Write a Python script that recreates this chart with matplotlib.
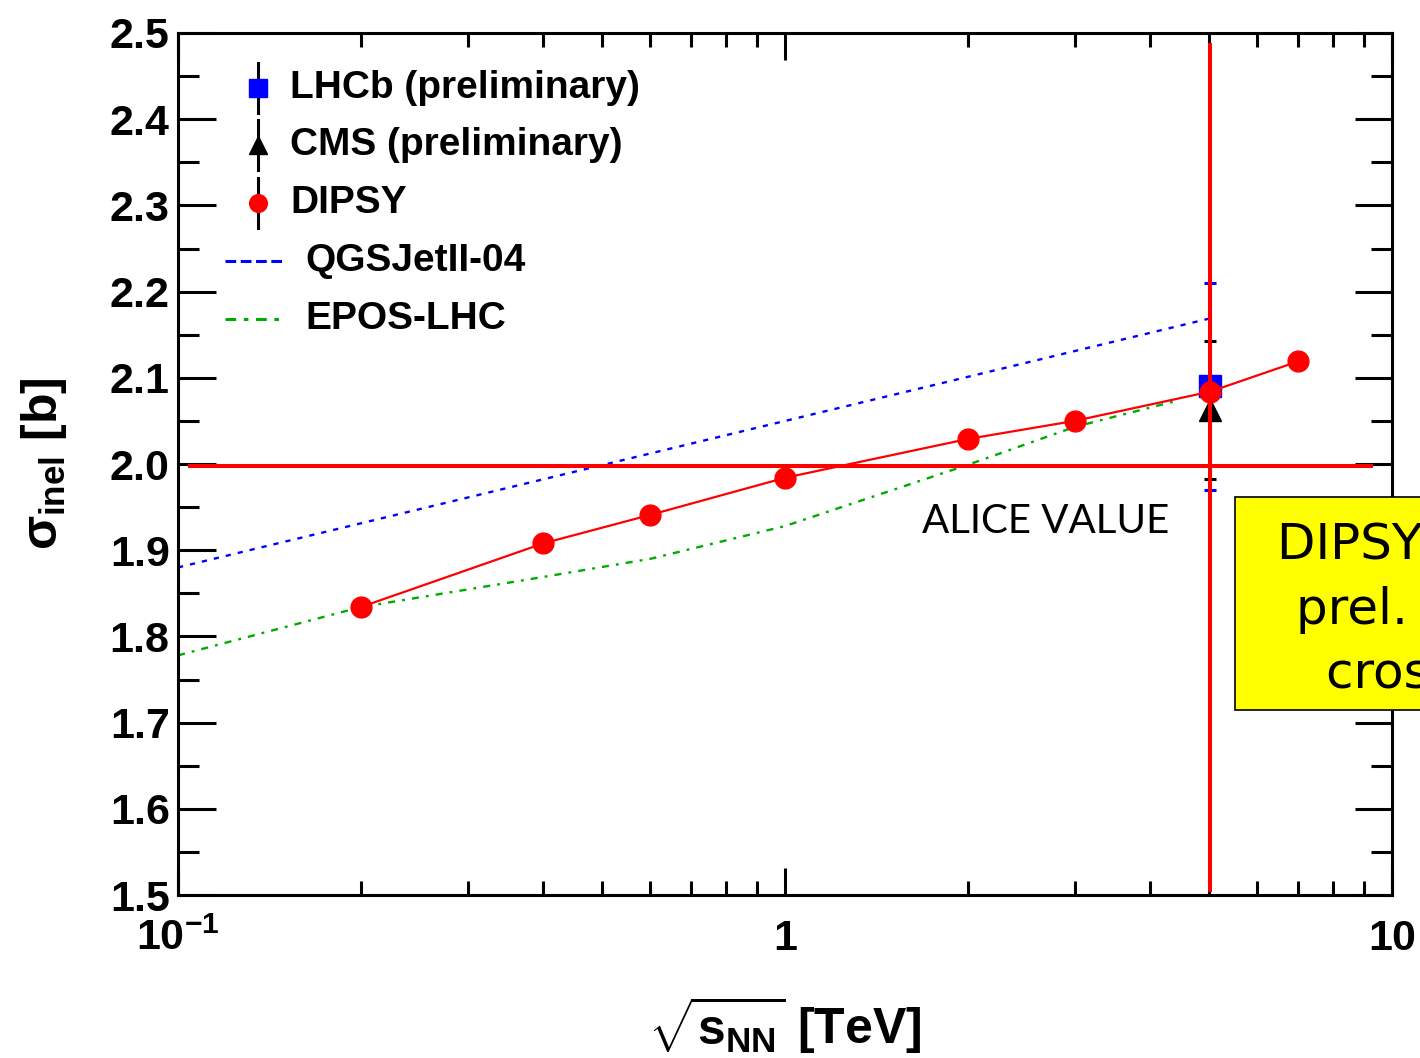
import numpy as np
import matplotlib.pyplot as plt
from matplotlib.patches import Rectangle
from matplotlib.ticker import (FixedLocator, FixedFormatter, LogLocator,
                               MultipleLocator, FormatStrFormatter, NullFormatter)

plt.rcParams['font.family'] = 'Liberation Sans'
plt.rcParams['font.weight'] = 'bold'
plt.rcParams['axes.labelweight'] = 'bold'
plt.rcParams['mathtext.fontset'] = 'custom'
plt.rcParams['mathtext.rm'] = 'Liberation Sans:bold'
plt.rcParams['mathtext.it'] = 'Liberation Sans:bold'
plt.rcParams['mathtext.bf'] = 'Liberation Sans:bold'

# DIPSY inelastic p-Pb cross section vs sqrt(s_NN) [TeV], sigma in barn
dipsy_x = [0.2, 0.4, 0.6, 1.0, 2.0, 3.0, 5.02, 7.0]
dipsy_y = [1.834, 1.908, 1.941, 1.984, 2.029, 2.050, 2.084, 2.119]

# model curves
qgs_x = [0.1, 5.02]
qgs_y = [1.880, 2.169]
epos_x = [0.1, 0.2, 0.4, 0.6, 1.0, 2.0, 3.0, 4.4]
epos_y = [1.778, 1.834, 1.869, 1.890, 1.928, 1.999, 2.043, 2.073]

# measurements at 5.02 TeV
lhcb_x, lhcb_y, lhcb_err = [5.02], [2.090], [0.12]
cms_x, cms_y, cms_err = [5.02], [2.063], [0.08]

alice_value = 1.998
alice_range = [0.1046, 9.23]
energy_marker = 5.02
energy_range = [1.506, 2.486]

fig = plt.figure(figsize=(14.2, 10.58), dpi=100)
ax = fig.add_axes([0.12535, 0.15406, 0.85493, 0.81475])

ax.plot(qgs_x, qgs_y, color='blue', lw=1.7, ls=(0, (2.2, 3.0)), zorder=2)
ax.plot(epos_x, epos_y, color='#00aa00', lw=1.7, ls=(0, (3, 3, 1.2, 3)), zorder=2)

ax.errorbar(lhcb_x, lhcb_y, yerr=lhcb_err, fmt='s', color='blue', ms=16,
            elinewidth=2.2, capsize=4.3, capthick=2.2, zorder=3)
ax.errorbar(cms_x, cms_y, yerr=cms_err, fmt='^', color='black', ms=16,
            elinewidth=2.2, capsize=4.3, capthick=2.2, zorder=3)
ax.plot(dipsy_x, dipsy_y, '-o', color='red', lw=1.6, ms=15, zorder=4)

# reference lines added on top of the plot
ax.plot(alice_range, [alice_value, alice_value], color='red', lw=2.9,
        clip_on=False, zorder=6)
ax.plot([energy_marker, energy_marker], energy_range, color='red', lw=2.9,
        clip_on=False, zorder=6)
ax.text(1.68, 1.933, 'ALICE VALUE', family='Lato', fontweight='normal',
        fontsize=29, ha='left', va='center', zorder=7)

ax.set_xscale('log')
ax.set_xlim(0.1, 10)
ax.set_ylim(1.5, 2.5)
ax.xaxis.set_major_locator(FixedLocator([0.1, 1, 10]))
ax.xaxis.set_major_formatter(FixedFormatter([r'$10^{-1}$', '1', '10']))
ax.xaxis.set_minor_locator(LogLocator(base=10, subs=np.arange(2, 10)))
ax.xaxis.set_minor_formatter(NullFormatter())
ax.yaxis.set_major_locator(MultipleLocator(0.1))
ax.yaxis.set_minor_locator(MultipleLocator(0.05))
ax.yaxis.set_major_formatter(FormatStrFormatter('%.1f'))

ax.tick_params(which='both', direction='in', top=True, right=True, width=2.2,
               labelsize=31)
ax.tick_params(axis='y', which='major', length=27, pad=6)
ax.tick_params(axis='y', which='minor', length=15)
ax.tick_params(axis='x', which='major', length=19.5, pad=17)
ax.tick_params(axis='x', which='minor', length=10)
for s in ax.spines.values():
    s.set_linewidth(2.2)

ax.set_xlabel(r'$\sqrt{s_{NN}}$ [TeV]', fontsize=36, fontweight='bold')
ax.xaxis.set_label_coords(0.5, -0.115)
ax.xaxis.label.set_va('top')
ax.set_ylabel(r'$\sigma_{inel}$ [b]', fontsize=36, fontweight='bold')
ax.yaxis.set_label_coords(-0.09, 0.5)


# hand-drawn legend in the upper left corner
def to_ax(px, py):
    return (px - 178) / 1214, (895 - py) / 862


marker_entries = [('s', 'blue', 'LHCb (preliminary)', 88, 16),
                  ('^', 'black', 'CMS (preliminary)', 145, 15),
                  ('o', 'red', 'DIPSY', 203, 15)]
for mk, col, label, py, ms in marker_entries:
    x0, y0 = to_ax(258, py)
    _, ytop = to_ax(258, py - 25)
    _, ybot = to_ax(258, py + 25)
    ax.plot([x0, x0], [ybot, ytop], color='black', lw=2.2,
            transform=ax.transAxes, zorder=5)
    ax.plot([x0], [y0], marker=mk, color=col, ms=ms * 0.85,
            transform=ax.transAxes, zorder=6)
    tx, ty = to_ax(290, py)
    ax.text(tx, ty, label, fontsize=28, ha='left', va='center',
            transform=ax.transAxes)

line_entries = [('blue', (0, (3.5, 1.5)), 'QGSJetII-04', 261),
                ('#00aa00', (0, (3.5, 2.5, 1.5, 2.5)), 'EPOS-LHC', 319)]
for col, ls, label, py in line_entries:
    xa, ya = to_ax(225, py)
    xb, _ = to_ax(286, py)
    ax.plot([xa, xb], [ya, ya], color=col, lw=2.2, ls=ls,
            transform=ax.transAxes)
    tx, ty = to_ax(305, py)
    ax.text(tx, ty, label, fontsize=28, ha='left', va='center',
            transform=ax.transAxes)

# yellow note box running off the right edge
W, H = 1420, 1058
fig.add_artist(Rectangle((1235 / W, 1 - 710 / H), 300 / W, 213 / H,
                         transform=fig.transFigure, facecolor='#ffff00',
                         edgecolor='black', lw=1.2, clip_on=False))
note_lines = [('DIPSY vs.', 1277, 560), ('prel. LHCb', 1296, 624),
              ('cross section', 1326, 687)]
for txt, px, py in note_lines:
    fig.text(px / W, 1 - py / H, txt, family='DejaVu Sans',
             fontweight='normal', fontsize=36, ha='left', va='baseline')

fig.savefig('out.png', dpi=100)
